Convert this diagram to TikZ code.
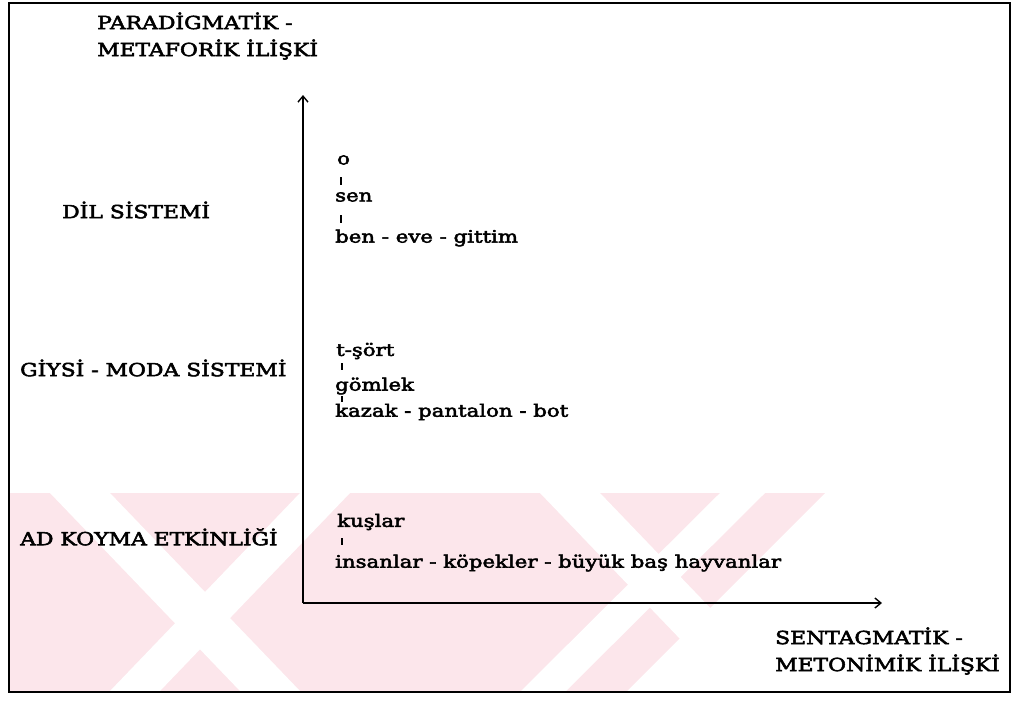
\documentclass[tikz,border=0pt]{standalone}
\usepackage{fontspec}
\setmainfont{DejaVu Serif}
\newfontfamily\capsface{DejaVu Serif}[FakeStretch=1.215,FakeBold=3]
\newfontfamily\wordface{DejaVu Serif}[FakeStretch=1.25,FakeBold=3]
\usetikzlibrary{arrows.meta}
\definecolor{wmpink}{HTML}{FCE6EB}
\begin{document}
\begin{tikzpicture}[x=1pt,y=-1pt,
  capslbl/.style={anchor=west,inner sep=0pt,font=\capsface\fontsize{18}{27}\selectfont,align=left},
  word/.style={anchor=west,inner sep=0pt,font=\wordface\fontsize{17}{20}\selectfont},
  tick/.style={line width=1.3pt},
  axis/.style={line width=1.4pt,-{Straight Barb[length=6pt,width=10pt,line width=1.4pt]}}]
\useasboundingbox (0,0) rectangle (1018,702);
% watermark bands at the foot of the page
\begin{scope}
  \clip (10,493) rectangle (1009,691);
  \fill[wmpink] (10,493) -- (825,493) -- (626,692) -- (10,692) -- cycle;
  \fill[white] (50,493) -- (110,493) -- (300,691) -- (240,691) -- cycle;
  \fill[white] (300,493) -- (350,493) -- (160,691) -- (110,691) -- cycle;
  \fill[white] (540,493) -- (600,493) -- (790,691) -- (730,691) -- cycle;
  \fill[white] (720,493) -- (765,493) -- (566,691) -- (521,691) -- cycle;
\end{scope}
% frame
\draw[line width=2pt] (9,3) rectangle (1010,692);
% axes
\coordinate (O) at (303,603);
\coordinate (Ytip) at (303,95);
\coordinate (Xtip) at (882,603);
\draw[axis] (O) -- (Ytip);
\draw[axis] (O) -- (Xtip);
% axis titles
\node[capslbl] (ytitle) at (97,36) {PARADİGMATİK -\\METAFORİK İLİŞKİ};
\node[capslbl] (xtitle) at (775,651) {SENTAGMATİK -\\METONİMİK İLİŞKİ};
% system names
\node[capslbl] (dil) at (62,210) {DİL SİSTEMİ};
\node[capslbl] (giysi) at (20,368) {GİYSİ - MODA SİSTEMİ};
\node[capslbl] (ad) at (20,537) {AD KOYMA ETKİNLİĞİ};
% language system
\node[word] (o) at (337,160) {o};
\node[word] (sen) at (335,197) {sen};
\node[word] (ben) at (335,238) {ben - eve - gittim};
\draw[tick] (341,177) -- (341,185);
\draw[tick] (341,215) -- (341,223);
% clothing system
\node[word] (tsort) at (336,351) {t-şört};
\node[word] (gomlek) at (335,386) {gömlek};
\node[word] (kazak) at (335,412) {kazak - pantalon - bot};
\draw[tick] (342,363) -- (342,370);
\draw[tick] (342,396) -- (342,402);
% naming activity
\node[word] (kuslar) at (337,522) {kuşlar};
\node[word] (insan) at (335,563) {insanlar - köpekler - büyük baş hayvanlar};
\draw[tick] (342,538) -- (342,545);
\end{tikzpicture}
\end{document}
